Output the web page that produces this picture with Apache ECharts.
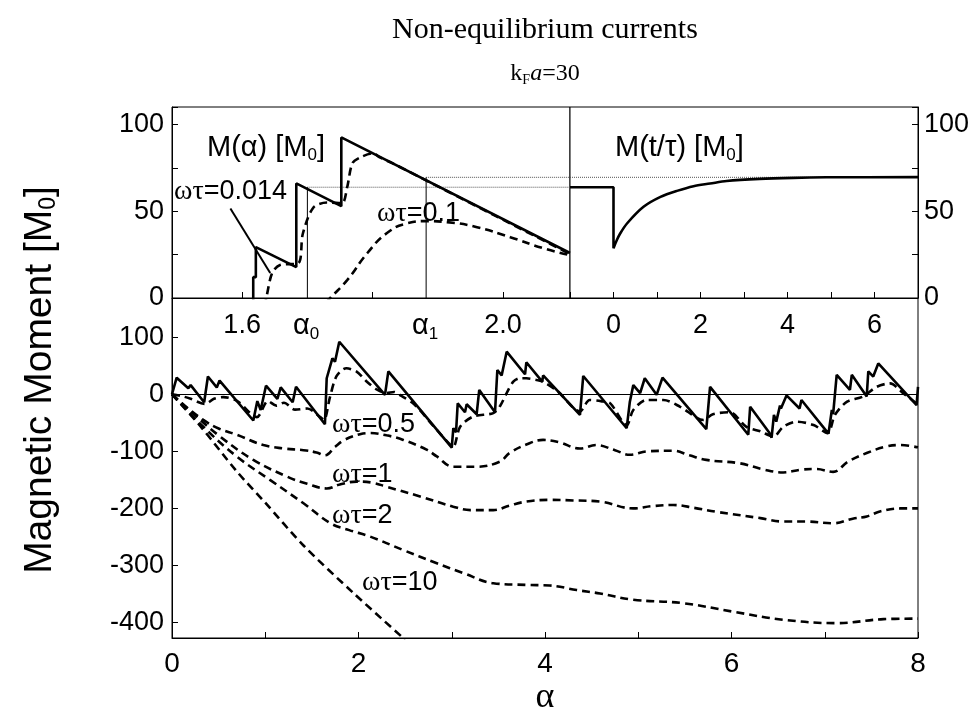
<!DOCTYPE html>
<html>
<head>
<meta charset="utf-8">
<script src="https://cdn.jsdelivr.net/npm/echarts@6.0.0/dist/echarts.min.js"></script>
<style>
  html, body { margin: 0; padding: 0; background: #fff; }
  #chart { width: 979px; height: 721px; }
</style>
</head>
<body>
<div id="chart"></div>
<script>
// ---- main panel: M(alpha) for several omega*tau ----
var mEquilibrium = [[0,0],[0.05,29],[0.175,10.5],[0.2,16],[0.345,-14],[0.385,31],[0.48,12],[0.51,24],
  [0.872,-46],[0.915,-12],[0.951,-27.5],[1.008,15],[1.13,-8],[1.166,12],[1.294,-14],[1.33,13],
  [1.64,-52.5],[1.659,28],[1.72,63],[1.748,57],[1.794,92],[2.284,-1],[2.32,40],[3.0,-93.5],
  [3.017,-59.5],[3.046,-66.5],[3.064,-16],[3.142,-31.5],[3.16,-17.5],[3.267,-35],[3.295,7.5],
  [3.464,-31.5],[3.489,42.5],[3.535,33],[3.589,74.6],[3.786,35],[3.8,56],[3.97,22],[3.98,33],
  [4.375,-36],[4.41,32],[4.876,-59.5],[4.91,-13],[4.947,16],[5.02,2],[5.07,28],[5.197,-1],[5.26,29],
  [5.73,-61],[5.77,13],[6.18,-71],[6.2,-22],[6.4,-66],[6.43,-76],[6.455,-36],[6.48,-48],[6.52,-20],
  [6.53,-25],[6.59,-2],[6.73,-25],[6.75,-10],[7.04,-69],[7.076,-27.5],[7.09,-35],[7.128,34],
  [7.27,7.5],[7.29,34],[7.45,-4],[7.467,40],[7.52,31],[7.574,54],[7.985,-19],[8.0,13]];

var mTau01 = [[0,0],[0.1,-3],[0.2,-8],[0.354,-17],[0.45,-8],[0.55,-5],[0.7,-12],[0.91,-40],[1.03,-12],
  [1.12,-20],[1.2,-15],[1.32,-27],[1.45,-25],[1.59,-40],[1.63,-45],[1.694,-5],[1.766,32],[1.87,45.5],
  [1.98,39.6],[2.09,22],[2.2,8],[2.3,2],[2.38,4],[2.45,-2],[2.6,-18],[2.8,-55],[2.98,-88],[3.017,-92],
  [3.09,-57],[3.23,-39],[3.446,-33],[3.52,-20],[3.589,2],[3.66,22],[3.73,28],[3.8,28],[3.91,25],
  [3.98,22],[4.14,4.6],[4.375,-30],[4.48,-10],[4.6,-12],[4.7,-16],[4.876,-54],[4.947,-27.5],[5.09,-10],
  [5.27,-10],[5.45,-22],[5.7,-45],[5.8,-35],[5.98,-31.6],[6.16,-57],[6.31,-65],[6.45,-74],[6.555,-57],
  [6.7,-48],[6.88,-54],[7.03,-68],[7.11,-36],[7.24,-13],[7.41,-4],[7.557,13],[7.7,19],[7.84,2],[8.0,-18]];

var mTau05 = [[0,0],[0.1,-15],[0.336,-45],[0.5,-60],[0.694,-71],[0.98,-89],[1.2,-95],[1.41,-98],
  [1.55,-102],[1.64,-107],[1.75,-92],[1.85,-80],[2.016,-70],[2.12,-68],[2.3,-72],[2.48,-80],[2.73,-97],
  [2.84,-109],[3.017,-127],[3.27,-127],[3.517,-118],[3.62,-103],[3.8,-88],[3.98,-80],[4.15,-84],
  [4.375,-95],[4.55,-89],[4.75,-98],[4.91,-106],[5.1,-100],[5.376,-99],[5.55,-107],[5.73,-115],
  [6.09,-121],[6.35,-132],[6.555,-137],[6.75,-132],[6.91,-131],[7.09,-136],[7.25,-118],[7.45,-103],
  [7.65,-92],[7.81,-89],[8.0,-93]];

var mTau1 = [[0,0],[0.2,-30],[0.515,-74],[0.872,-115],[1.23,-144],[1.45,-157],[1.66,-165],[1.8,-158],
  [1.98,-153],[2.15,-155],[2.3,-162],[2.66,-179],[3.017,-197],[3.2,-203],[3.446,-203],[3.62,-195],
  [3.8,-188],[4.05,-185],[4.3,-186],[4.59,-188],[4.947,-200],[5.15,-196],[5.376,-194],[5.6,-199],
  [5.84,-206],[6.31,-217],[6.555,-223],[6.8,-223],[7.09,-226],[7.3,-218],[7.45,-214],[7.6,-205],
  [7.81,-200],[8.0,-200]];

var mTau2 = [[0,0],[0.336,-57],[0.694,-109],[1.05,-150],[1.41,-191],[1.7,-226],[1.9,-238],[2.12,-249],
  [2.48,-273],[2.84,-296],[3.12,-313],[3.446,-331],[3.8,-334],[4.05,-335],[4.34,-343],[4.59,-349],
  [4.947,-360],[5.48,-366],[6.02,-381],[6.555,-395],[7.128,-401],[7.63,-394],[8.0,-393]];

var mTau10 = [[0,0],[0.3,-55],[0.694,-135],[1.0,-190],[1.41,-265],[1.944,-348],[2.5,-430]];

var mainXLabels = [0, 2, 4, 6, 8];
var mainYLabels = [-400, -300, -200, -100, 0, 100];

// ---- inset left: M(alpha) near the big jump ----
var alpha0 = 1.70, alpha1 = 1.882;
var mAlpha0 = 63.8, mAlpha1 = 69.5;
var insetAlphaMin = 1.4925, insetAlphaMax = 2.1025;
var insetSolid = [[1.617,-5],[1.617,12],[1.621,12],[1.621,29.3],[1.683,17.8],[1.683,66],
  [1.752,52.9],[1.752,92.5],[2.1025,25.9]];
var insetTau0014 = [[1.634,-5],[1.637,0],[1.646,14.4],[1.658,19],[1.686,20],[1.693,37],[1.709,52],
  [1.73,55],[1.753,54.6],[1.761,63.8],[1.769,77.6],[1.781,81],[1.801,83.3],[1.811,81],[1.831,77.5],
  [2.1025,25.3]];
var insetTau01 = [[1.728,-3],[1.735,0],[1.761,10.3],[1.792,25.9],[1.822,37.4],[1.853,43],[1.882,44.3],
  [1.914,43.7],[1.96,40.8],[2.011,35],[2.061,28.7],[2.1025,24.7]];
var insetAlphaLabels = [1.6, 2.0];
var insetAlphaTicks = [1.6, 1.8, 2.0];
var arrowFrom = [1.582, 51.5], arrowTo = [1.643, 14.4];

// ---- inset right: M(t/tau) after the jump ----
var mTime = [[-1,63.8],[0,63.8],[0,28.6],[0.08,33.5],[0.15,37],[0.31,42.9],[0.69,52.5],[1.08,58.2],
  [1.46,61.7],[1.84,64.4],[2.22,65.9],[2.6,67.4],[3.36,68.6],[4.13,69.2],[4.89,69.5],[7,69.6]];
var timeLabels = [0, 2, 4, 6];
var insetYLabels = [0, 50, 100];

var SANS = 'Liberation Sans';
var SERIF = 'Liberation Serif';
var chart = echarts.init(document.getElementById('chart'));

function curve(grid, data, dashed, smooth) {
  return {
    type: 'line', xAxisIndex: grid, yAxisIndex: grid, data: data,
    showSymbol: false, symbol: 'none', smooth: smooth || false, silent: true,
    lineStyle: { color: '#000', width: 2.6, type: dashed ? [8, 5] : 'solid' }
  };
}
function thin(grid, data, type) {
  return {
    type: 'line', xAxisIndex: grid, yAxisIndex: grid, data: data,
    showSymbol: false, symbol: 'none', silent: true,
    lineStyle: { color: type === 'dotted' ? '#555' : '#000', width: 1, type: type || 'solid' }
  };
}

var tickStyle = { inside: true, length: 6, lineStyle: { color: '#000' } };
var axisLineStyle = { show: true, onZero: false, lineStyle: { color: '#000', width: 1 } };

function txt(x, y, text, align, rich) {
  return { type: 'text', x: x, y: y, silent: true,
    style: { text: text, align: align || 'left', verticalAlign: 'middle', rich: rich, fill: '#000' } };
}
var wtRich = {
  g: { fontFamily: SERIF, fontSize: 28, color: '#000' },
  n: { fontFamily: SANS, fontSize: 27, color: '#000' }
};
var mRich = {
  n: { fontFamily: SANS, fontSize: 29, color: '#000' },
  s: { fontFamily: SANS, fontSize: 17, color: '#000', padding: [14, 0, 0, 0] }
};
var alphaRich = {
  g: { fontFamily: SANS, fontSize: 29, color: '#000' },
  s: { fontFamily: SANS, fontSize: 17, color: '#000', padding: [16, 0, 0, 0] }
};

var option = {
  animation: false,
  backgroundColor: '#fff',
  grid: [
    { left: 172, right: 61, top: 298, bottom: 83, show: true, borderColor: '#000', borderWidth: 1 },
    { left: 172, width: 398, top: 107, height: 191, show: true, borderColor: '#000', borderWidth: 1, backgroundColor: '#fff' },
    { left: 570, width: 348, top: 107, height: 191, show: true, borderColor: '#000', borderWidth: 1, backgroundColor: '#fff' }
  ],
  xAxis: [
    { gridIndex: 0, type: 'value', min: 0, max: 8, interval: 1,
      axisLine: axisLineStyle, axisTick: tickStyle, splitLine: { show: false },
      axisLabel: { customValues: mainXLabels, margin: 12, fontFamily: SANS, fontSize: 28, color: '#000' } },
    { gridIndex: 1, type: 'value', min: insetAlphaMin, max: insetAlphaMax,
      axisLine: axisLineStyle, splitLine: { show: false },
      axisTick: { inside: true, length: 6, customValues: insetAlphaTicks, lineStyle: { color: '#000' } },
      axisLabel: { customValues: insetAlphaLabels, margin: 14, fontFamily: SANS, fontSize: 27, color: '#000',
        formatter: function (v) { return v.toFixed(1); } } },
    { gridIndex: 2, type: 'value', min: -1, max: 7, interval: 1,
      axisLine: axisLineStyle, axisTick: tickStyle, splitLine: { show: false },
      axisLabel: { customValues: timeLabels, margin: 14, fontFamily: SANS, fontSize: 27, color: '#000' } }
  ],
  yAxis: [
    { gridIndex: 0, type: 'value', min: -427, max: 168.6,
      axisLine: axisLineStyle, splitLine: { show: false },
      axisTick: { inside: true, length: 6, customValues: mainYLabels, lineStyle: { color: '#000' } },
      axisLabel: { customValues: mainYLabels, margin: 8, fontFamily: SANS, fontSize: 27, color: '#000' } },
    { gridIndex: 1, type: 'value', min: 0, max: 110, interval: 25,
      axisLine: axisLineStyle, axisTick: tickStyle, splitLine: { show: false },
      axisLabel: { customValues: insetYLabels, margin: 8, fontFamily: SANS, fontSize: 27, color: '#000' } },
    { gridIndex: 2, type: 'value', min: 0, max: 110, interval: 25, position: 'right',
      axisLine: axisLineStyle, axisTick: tickStyle, splitLine: { show: false },
      axisLabel: { customValues: insetYLabels, margin: 6, fontFamily: SANS, fontSize: 27, color: '#000' } }
  ],
  series: [
    // main panel
    (function () {
      var s = curve(0, mEquilibrium, false, false);
      s.markLine = { silent: true, symbol: 'none', label: { show: false },
        lineStyle: { color: '#000', width: 1, type: 'solid' }, data: [{ yAxis: 0 }] };
      return s;
    })(),
    curve(0, mTau01, true, 0.3),
    curve(0, mTau05, true, 0.4),
    curve(0, mTau1, true, 0.4),
    curve(0, mTau2, true, 0.4),
    curve(0, mTau10, true, 0.3),
    // inset left
    thin(1, [[alpha0, mAlpha0], [insetAlphaMax, mAlpha0]], 'dotted'),
    thin(1, [[alpha1, mAlpha1], [insetAlphaMax, mAlpha1]], 'dotted'),
    thin(1, [[alpha0, 0], [alpha0, mAlpha0]]),
    thin(1, [[alpha1, 0], [alpha1, mAlpha1]]),
    curve(1, insetSolid, false, false),
    curve(1, insetTau0014, true, 0.3),
    curve(1, insetTau01, true, 0.5),
    {
      type: 'line', xAxisIndex: 1, yAxisIndex: 1, data: [], silent: true,
      markLine: { silent: true, symbol: ['none', 'arrow'], symbolSize: [0, 12], label: { show: false },
        lineStyle: { color: '#000', width: 2, type: 'solid' },
        data: [[{ coord: arrowFrom }, { coord: arrowTo }]] }
    },
    // inset right
    thin(2, [[-1, mAlpha1], [7, mAlpha1]], 'dotted'),
    curve(2, mTime, false, 0.3)
  ],
  graphic: [
    { type: 'text', x: 545, y: 30, silent: true,
      style: { text: 'Non-equilibrium currents', align: 'center', verticalAlign: 'middle',
        font: '30px "Liberation Serif"', fill: '#000' } },
    txt(545, 74, '{r|k}{s|F}{i|a}{r|=30}', 'center', {
      r: { fontFamily: SERIF, fontSize: 24, color: '#000' },
      s: { fontFamily: SERIF, fontSize: 14, color: '#000', padding: [12, 0, 0, 0] },
      i: { fontFamily: SERIF, fontSize: 24, fontStyle: 'italic', color: '#000' }
    }),
    { type: 'text', x: 40, y: 380, rotation: Math.PI / 2, silent: true,
      style: { text: '{n|Magnetic Moment [M}{s|0}{n|]}', align: 'center', verticalAlign: 'middle',
        rich: { n: { fontFamily: SANS, fontSize: 39, color: '#000' },
                s: { fontFamily: SANS, fontSize: 23, color: '#000', padding: [17, 0, 0, 0] } } } },
    { type: 'text', x: 545, y: 698, silent: true,
      style: { text: 'α', align: 'center', verticalAlign: 'middle', font: '36px "Liberation Serif"', fill: '#000' } },
    txt(306, 326, '{g|α}{s|0}', 'center', alphaRich),
    txt(425, 326, '{g|α}{s|1}', 'center', alphaRich),
    txt(207, 148, '{n|M(α) [M}{s|0}{n|]}', 'left', mRich),
    txt(615, 148, '{n|M(t/τ) [M}{s|0}{n|]}', 'left', mRich),
    txt(174, 192, '{g|ωτ}{n|=0.014}', 'left', wtRich),
    txt(377, 214, '{g|ωτ}{n|=0.1}', 'left', wtRich),
    txt(332, 425, '{g|ωτ}{n|=0.5}', 'left', wtRich),
    txt(332, 475, '{g|ωτ}{n|=1}', 'left', wtRich),
    txt(332, 516, '{g|ωτ}{n|=2}', 'left', wtRich),
    txt(362, 583, '{g|ωτ}{n|=10}', 'left', wtRich)
  ]
};
chart.setOption(option);
</script>
</body>
</html>
